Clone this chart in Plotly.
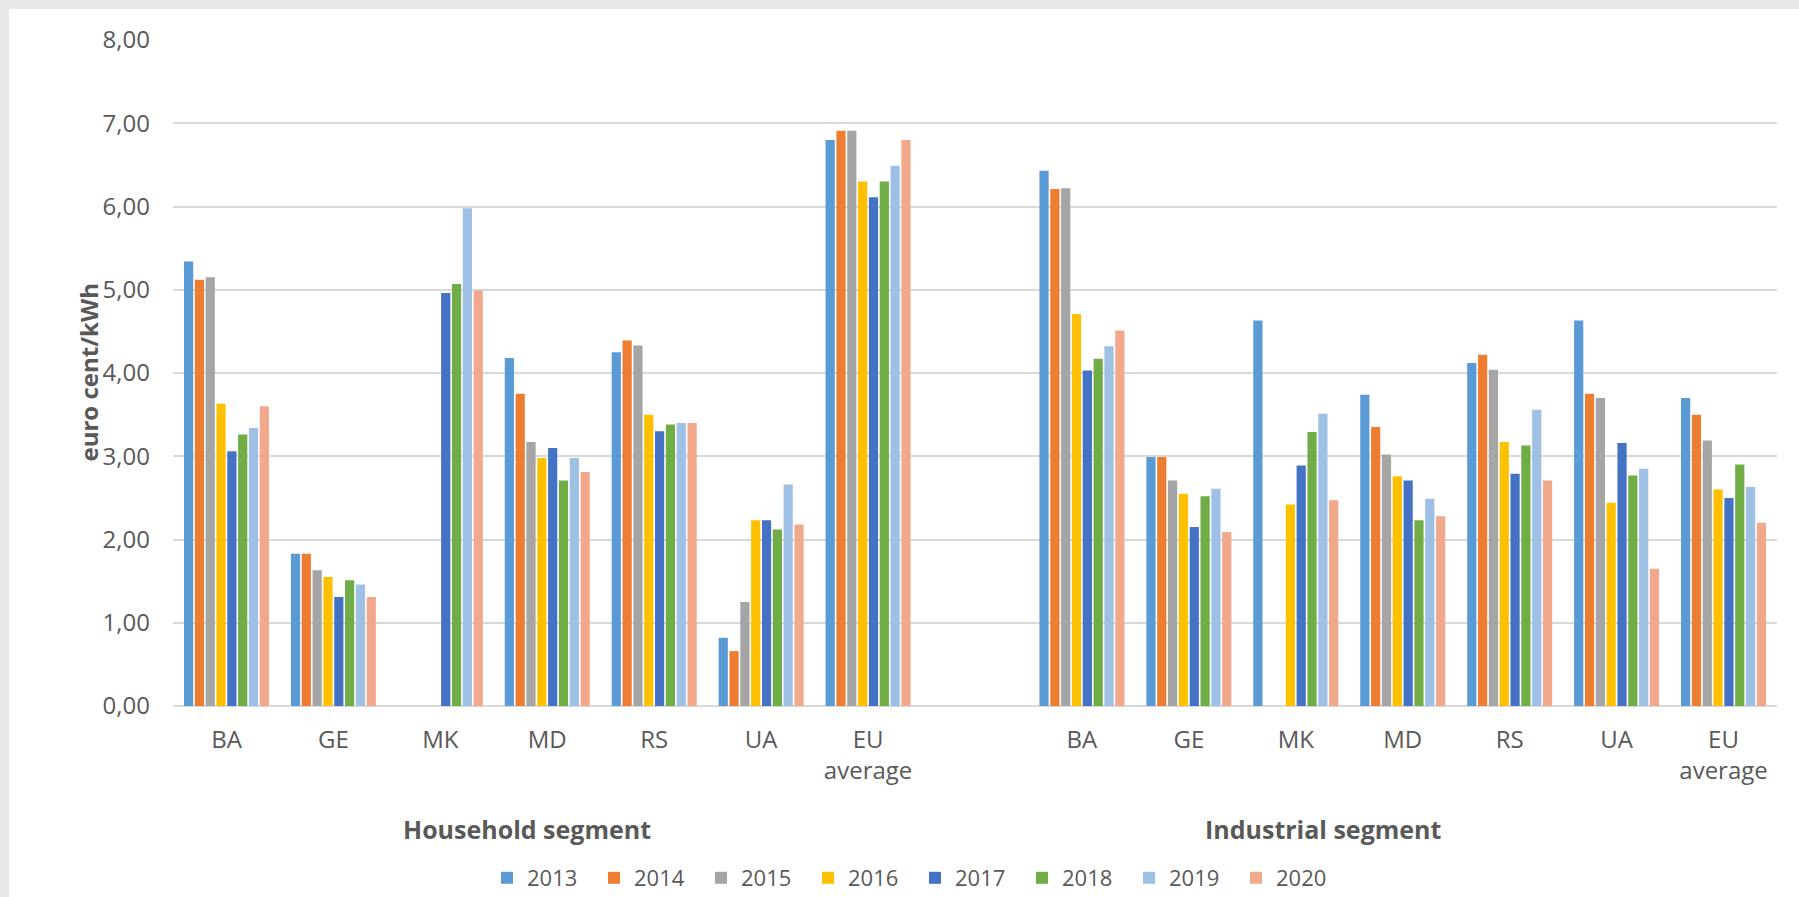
import plotly.graph_objects as go

# Categories (household block, gap, industrial block)
countries = ["BA", "GE", "MK", "MD", "RS", "UA", "EU<br>average"]
segments = ["Household segment", "Industrial segment"]
years = ["2013", "2014", "2015", "2016", "2017", "2018", "2019", "2020"]
colors = ["#5B9BD5", "#ED7D31", "#A5A5A5", "#FFC000",
          "#4472C4", "#70AD47", "#9DC0E4", "#F2A88B"]

# Household prices, euro cent/kWh (BA, GE, MK, MD, RS, UA, EU average)
hh_2013 = [5.34, 1.83, None, 4.18, 4.25, 0.82, 6.80]
hh_2014 = [5.12, 1.83, None, 3.75, 4.39, 0.66, 6.91]
hh_2015 = [5.15, 1.63, None, 3.17, 4.33, 1.25, 6.91]
hh_2016 = [3.63, 1.55, None, 2.98, 3.50, 2.23, 6.30]
hh_2017 = [3.06, 1.31, 4.96, 3.10, 3.30, 2.23, 6.11]
hh_2018 = [3.26, 1.51, 5.07, 2.71, 3.38, 2.12, 6.30]
hh_2019 = [3.34, 1.46, 5.98, 2.98, 3.40, 2.66, 6.49]
hh_2020 = [3.60, 1.31, 4.99, 2.81, 3.40, 2.18, 6.80]

# Industrial prices, euro cent/kWh
ind_2013 = [6.43, 2.99, 4.63, 3.74, 4.12, 4.63, 3.70]
ind_2014 = [6.21, 2.99, None, 3.35, 4.22, 3.75, 3.50]
ind_2015 = [6.22, 2.71, None, 3.02, 4.04, 3.70, 3.19]
ind_2016 = [4.71, 2.55, 2.42, 2.76, 3.17, 2.44, 2.60]
ind_2017 = [4.03, 2.15, 2.89, 2.71, 2.79, 3.16, 2.50]
ind_2018 = [4.17, 2.52, 3.29, 2.23, 3.13, 2.77, 2.90]
ind_2019 = [4.32, 2.61, 3.51, 2.49, 3.56, 2.85, 2.63]
ind_2020 = [4.51, 2.09, 2.47, 2.28, 2.71, 1.65, 2.20]

household = [hh_2013, hh_2014, hh_2015, hh_2016, hh_2017, hh_2018, hh_2019, hh_2020]
industrial = [ind_2013, ind_2014, ind_2015, ind_2016, ind_2017, ind_2018, ind_2019, ind_2020]

n = len(countries)
# slot positions: household 0..6, empty slot 7, industrial 8..14
x_pos = list(range(n)) + [n + 1 + i for i in range(n)]
tick_text = countries + countries

TEXT = "#595959"
FONT = "Open Sans"

fig = go.Figure()
for yr, col, hh, ind in zip(years, colors, household, industrial):
    fig.add_trace(go.Bar(
        x=x_pos, y=hh + ind, name=yr,
        marker=dict(color=col, line=dict(width=0)),
    ))

# frame geometry (pixels) used for paper-coordinate placement
W, PL, PR = 1799, 173, 1777
H, PT, PB = 897, 40, 706
def px(v):
    return (v - PL) / (PR - PL)
def py(v):
    return (PB - v) / (PB - PT)

fig.update_layout(
    width=W, height=H,
    margin=dict(l=PL, r=W - PR, t=PT, b=H - PB, autoexpand=False),
    paper_bgcolor="white", plot_bgcolor="white",
    barmode="group", bargap=0.19, bargroupgap=0.15,
    separators=",.",
    font=dict(family=FONT, color=TEXT, size=23),
    showlegend=True,
    legend=dict(
        orientation="h", x=px(915), xanchor="center",
        yref="container", y=1 - 878 / H, yanchor="middle",
        font=dict(size=22, color=TEXT), entrywidth=62, entrywidthmode="pixels",
        itemsizing="constant", traceorder="normal",
    ),
)

fig.update_xaxes(
    range=[-0.5, 2 * n + 0.5], tickmode="array", tickvals=x_pos, ticktext=tick_text,
    showgrid=False, zeroline=False, showline=False, ticks="",
    tickfont=dict(size=24, color=TEXT), ticklabelstandoff=17,
)
fig.update_yaxes(
    range=[0, 8], dtick=1, tickformat=".2f",
    showgrid=True, gridcolor="#D9D9D9", gridwidth=2,
    zeroline=True, zerolinecolor="#D9D9D9", zerolinewidth=2,
    showline=False, ticks="",
    tickfont=dict(size=24, color=TEXT), ticklabelstandoff=22,
)

# frame strips along the top and left edge
fig.add_shape(type="rect", xref="paper", yref="paper", x0=px(0), x1=px(9), y0=py(H), y1=py(0),
              fillcolor="#E7E7E7", line=dict(width=0), layer="below")
fig.add_shape(type="rect", xref="paper", yref="paper", x0=px(0), x1=px(W), y0=py(9), y1=py(0),
              fillcolor="#E7E7E7", line=dict(width=0), layer="below")

# axis title and segment captions
fig.add_annotation(text="<b>euro cent/kWh</b>", xref="paper", yref="paper",
                   x=px(69), y=0.5, textangle=-90, showarrow=False,
                   font=dict(size=24, color=TEXT, family=FONT))
for seg, cx in zip(segments, [527, 1323]):
    fig.add_annotation(text="<b>" + seg + "</b>", xref="paper", yref="paper",
                       x=px(cx), y=py(829), showarrow=False,
                       xanchor="center", yanchor="middle",
                       font=dict(size=25, color=TEXT, family=FONT))

fig.write_html("out.html")
